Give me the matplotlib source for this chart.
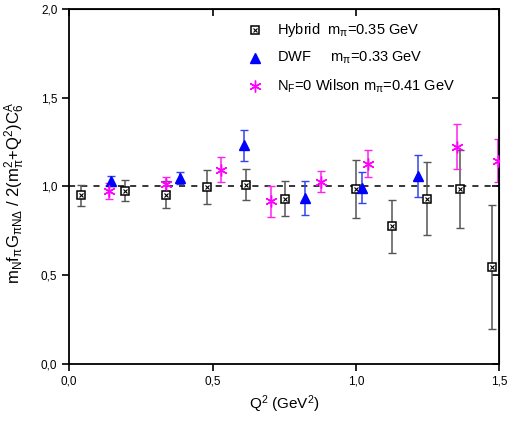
import matplotlib
matplotlib.use("Agg")
import matplotlib.pyplot as plt
from matplotlib.ticker import FuncFormatter, MultipleLocator

plt.rcParams['font.family'] = ['Liberation Sans', 'DejaVu Sans']
plt.rcParams['mathtext.fontset'] = 'custom'
plt.rcParams['mathtext.rm'] = 'Liberation Sans'
plt.rcParams['mathtext.it'] = 'Liberation Sans'

# Hybrid, m_pi = 0.35 GeV
hyb_q2 = [0.041, 0.194, 0.339, 0.481, 0.618, 0.752, 1.001, 1.127, 1.246, 1.361, 1.475]
hyb_val = [0.95, 0.976, 0.953, 0.995, 1.01, 0.93, 0.985, 0.775, 0.93, 0.985, 0.545]
hyb_err = [0.06, 0.06, 0.077, 0.097, 0.088, 0.10, 0.165, 0.15, 0.205, 0.22, 0.35]

# DWF, m_pi = 0.33 GeV
dwf_q2 = [0.146, 0.386, 0.609, 0.821, 1.021, 1.215]
dwf_val = [1.03, 1.046, 1.232, 0.935, 0.993, 1.058]
dwf_err = [0.03, 0.035, 0.088, 0.095, 0.085, 0.12]

# N_F=0 Wilson, m_pi = 0.41 GeV
wil_q2 = [0.138, 0.337, 0.528, 0.704, 0.877, 1.042, 1.352, 1.495]
wil_val = [0.976, 1.015, 1.094, 0.916, 1.026, 1.128, 1.223, 1.144]
wil_err = [0.045, 0.04, 0.07, 0.088, 0.058, 0.074, 0.127, 0.122]

fig = plt.figure(figsize=(5.16, 4.21), dpi=100)
ax = fig.add_axes([0.134, 0.136, 0.834, 0.843])

ax.axhline(1.0, color='black', ls=(0, (4, 4)), lw=1.1, zorder=1)

# Hybrid: boxed cross marker (square + x overlay)
ax.errorbar(hyb_q2, hyb_val, yerr=hyb_err, fmt='none', ecolor='#555555',
            elinewidth=1.1, capsize=2.8, capthick=1.0, zorder=2)
ax.plot(hyb_q2, hyb_val, 's', ms=5.5, mfc='white', mec='black', mew=1.1, zorder=3)
ax.plot(hyb_q2, hyb_val, 'x', ms=3.5, mec='black', mew=0.8, zorder=4)

ax.errorbar(dwf_q2, dwf_val, yerr=dwf_err, fmt='none', ecolor='#3344ee',
            elinewidth=1.1, capsize=2.8, capthick=1.0, zorder=2)
ax.plot(dwf_q2, dwf_val, '^', ms=7, color='#0000ff', mec='#0000ff', zorder=3)

ax.errorbar(wil_q2, wil_val, yerr=wil_err, fmt='none', ecolor='#ff22ee',
            elinewidth=1.1, capsize=2.8, capthick=1.0, zorder=2)
ax.plot(wil_q2, wil_val, marker=(6, 2, 0), ls='none', ms=8.5, mec='#ff00ff',
        mew=1.0, zorder=3)

# legend built by hand so the boxed marker looks the same
lx_m, lx_t = 0.431, 0.483
ly = [0.941, 0.862, 0.783]
ax.plot([lx_m], [ly[0]], 's', ms=5.5, mfc='white', mec='black', mew=1.1,
        transform=ax.transAxes)
ax.plot([lx_m], [ly[0]], 'x', ms=3.5, mec='black', mew=0.8,
        transform=ax.transAxes)
ax.plot([lx_m], [ly[1]], '^', ms=7, color='#0000ff', transform=ax.transAxes)
ax.plot([lx_m], [ly[2]], marker=(6, 2, 0), ms=8.5, mec='#ff00ff', mew=1.0,
        transform=ax.transAxes)
labels = [r"Hybrid  m$_{\pi}$=0.35 GeV",
          r"DWF     m$_{\pi}$=0.33 GeV",
          r"N$_{F}$=0 Wilson m$_{\pi}$=0.41 GeV"]
for y, t in zip(ly, labels):
    ax.text(lx_t, y, t, transform=ax.transAxes, fontsize=10.5, va='center')

ax.set_xlim(0, 1.5)
ax.set_ylim(0, 2.0)
ax.xaxis.set_major_locator(MultipleLocator(0.5))
ax.yaxis.set_major_locator(MultipleLocator(0.5))
comma = FuncFormatter(lambda v, p: f"{v:.1f}".replace('.', ','))
ax.xaxis.set_major_formatter(comma)
ax.yaxis.set_major_formatter(comma)
ax.tick_params(axis='both', which='major', direction='out', length=5, width=1.2,
               labelsize=8.5)
for s in ax.spines.values():
    s.set_linewidth(1.3)

# inward ticks on top and right
axt = ax.secondary_xaxis('top')
axt.xaxis.set_major_locator(MultipleLocator(0.5))
axt.tick_params(direction='in', length=5, width=1.2, labeltop=False)
axr = ax.secondary_yaxis('right')
axr.yaxis.set_major_locator(MultipleLocator(0.5))
axr.tick_params(direction='in', length=5, width=1.2, labelright=False)

ax.set_xlabel(r"Q$^{2}$ (GeV$^{2}$)", fontsize=11, labelpad=4)
ax.set_ylabel(r"m$_{N}$f$_{\pi}$G$_{\pi N\Delta}$ / 2(m$_{\pi}^{2}$+Q$^{2}$)C$_{6}^{A}$",
              fontsize=12)
ax.yaxis.set_label_coords(-0.097, 0.482)

fig.savefig("out.png", dpi=100)
